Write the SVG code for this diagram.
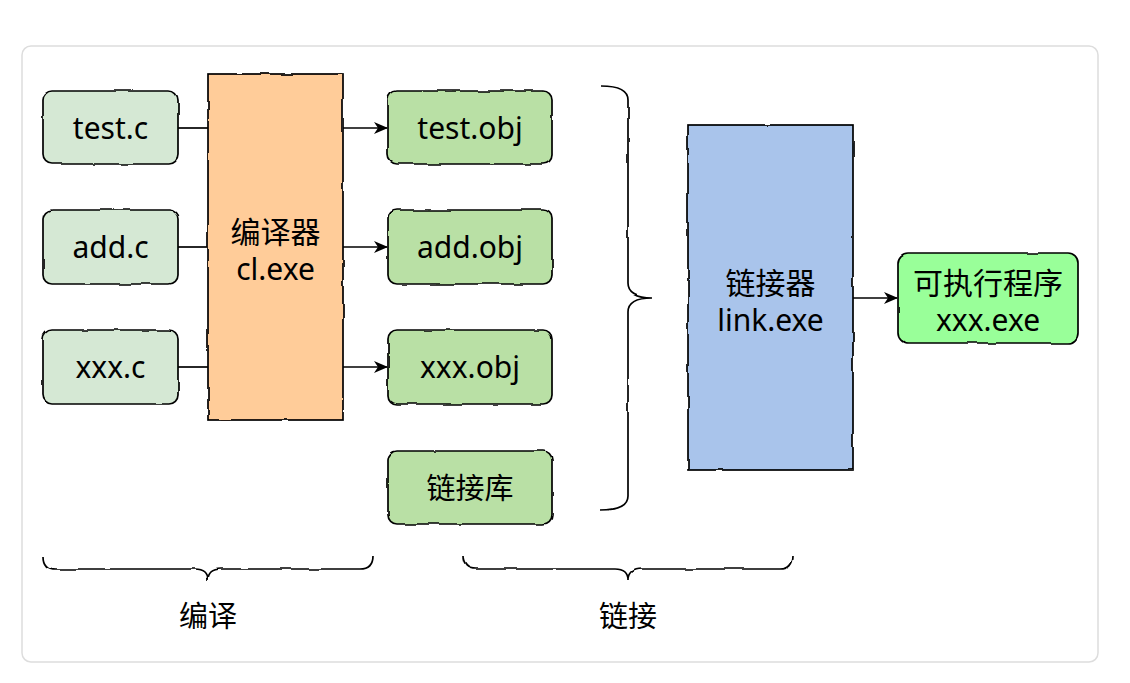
<svg xmlns="http://www.w3.org/2000/svg" width="1130" height="683" viewBox="0 0 1130 683">
<defs>
<filter id="rough" x="-5%" y="-5%" width="110%" height="110%">
<feTurbulence type="fractalNoise" baseFrequency="0.04" numOctaves="2" seed="3" result="n"/>
<feDisplacementMap in="SourceGraphic" in2="n" scale="3" xChannelSelector="R" yChannelSelector="G"/>
</filter>
<marker id="arr" viewBox="0 0 14 14" refX="13" refY="7" markerWidth="14" markerHeight="14" markerUnits="userSpaceOnUse" orient="auto">
<path d="M0,1 L14,7 L0,13 L4,7 Z" fill="#000"/>
</marker>
</defs>
<style>
.shape{stroke:#000;stroke-width:1.7;filter:url(#rough)}
.src{fill:#d5e8d4}
.obj{fill:#b9e0a5}
.cmp{fill:#ffcc99}
.lnk{fill:#a9c4eb}
.exe{fill:#99ff99}
.t{font-family:"Noto Sans","Noto Sans CJK SC",sans-serif;font-size:30px;fill:#000;text-anchor:middle}
.lbl{font-family:"Noto Sans CJK SC",sans-serif;font-size:29px;fill:#000;text-anchor:middle}
.line{stroke:#000;stroke-width:1.7;fill:none}
.brace{stroke:#000;stroke-width:1.7;fill:none;filter:url(#rough)}
</style>
<rect x="22" y="46" width="1076" height="616" rx="9" fill="#fff" stroke="#dddddd" stroke-width="1.5"/>

<g id="connectors">
<path class="line" d="M178,128 H208"/>
<path class="line" d="M178,247 H208"/>
<path class="line" d="M178,367 H208"/>
<path class="line" d="M343,128 H387" marker-end="url(#arr)"/>
<path class="line" d="M343,247 H387" marker-end="url(#arr)"/>
<path class="line" d="M343,367 H387" marker-end="url(#arr)"/>
<path class="line" d="M853,298 H897" marker-end="url(#arr)"/>
</g>

<g id="test-c"><rect class="shape src" x="43" y="91" width="135" height="73" rx="9"/><text class="t" x="110.5" y="139">test.c</text></g>
<g id="add-c"><rect class="shape src" x="43" y="210" width="135" height="74" rx="9"/><text class="t" x="110.5" y="258">add.c</text></g>
<g id="xxx-c"><rect class="shape src" x="43" y="330" width="135" height="74" rx="9"/><text class="t" x="110.5" y="378">xxx.c</text></g>

<g id="compiler"><rect class="shape cmp" x="208" y="74" width="135" height="346"/><text class="t" x="275.5" y="243">编译器</text><text class="t" x="275.5" y="280">cl.exe</text></g>

<g id="test-obj"><rect class="shape obj" x="388" y="91" width="164" height="73" rx="9"/><text class="t" x="470" y="139">test.obj</text></g>
<g id="add-obj"><rect class="shape obj" x="388" y="210" width="164" height="74" rx="9"/><text class="t" x="470" y="258">add.obj</text></g>
<g id="xxx-obj"><rect class="shape obj" x="388" y="330" width="164" height="74" rx="9"/><text class="t" x="470" y="378">xxx.obj</text></g>
<g id="lib"><rect class="shape obj" x="388" y="451" width="164" height="73" rx="9"/><text class="lbl" x="470" y="499">链接库</text></g>

<g id="right-brace"><path class="brace" d="M601,86 Q628,86 628,100 V284 Q628,298 652,298 Q628,298 628,312 V496 Q628,510 601,510"/></g>

<g id="linker"><rect class="shape lnk" x="688" y="125" width="165" height="345"/><text class="t" x="770.5" y="294">链接器</text><text class="t" x="770.5" y="331">link.exe</text></g>

<g id="exe"><rect class="shape exe" x="898" y="253" width="180" height="90" rx="10"/><text class="t" x="988" y="294">可执行程序</text><text class="t" x="988" y="331">xxx.exe</text></g>

<g id="brace-compile"><path class="brace" d="M43,556 Q43,569 56,569 H195 Q208,569 208,580 Q208,569 221,569 H360 Q373,569 373,556"/><text class="lbl" x="208" y="627">编译</text></g>
<g id="brace-link"><path class="brace" d="M463,556 Q463,569 476,569 H615 Q628,569 628,580 Q628,569 641,569 H780 Q793,569 793,556"/><text class="lbl" x="628" y="627">链接</text></g>
</svg>
